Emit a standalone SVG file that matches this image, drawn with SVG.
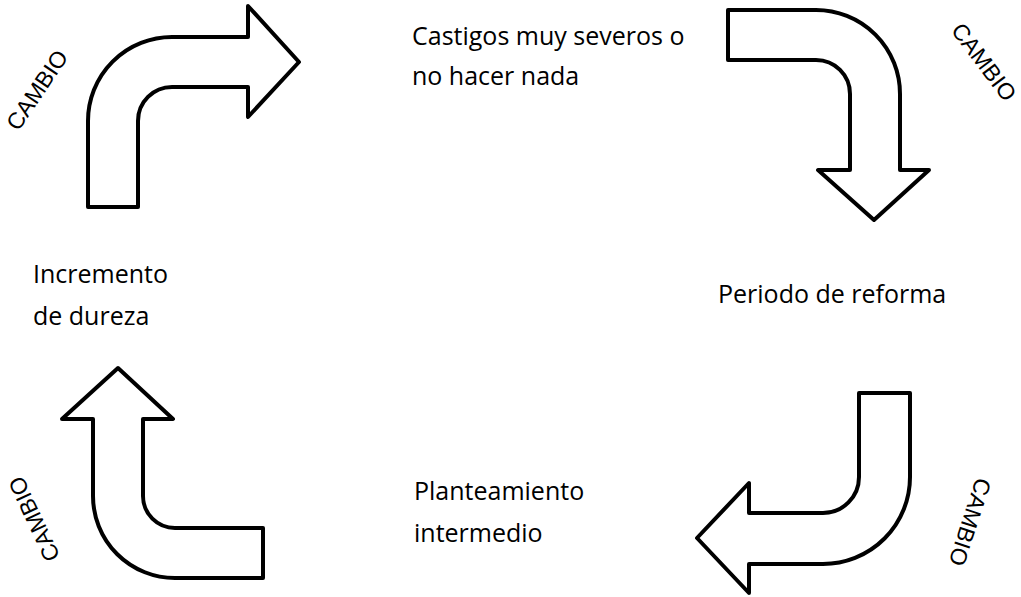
<svg xmlns="http://www.w3.org/2000/svg" width="1021" height="597" viewBox="0 0 1021 597">
<style>
.arrow{fill:#fff;stroke:#000;stroke-width:4;stroke-linejoin:round}
.lbl{font-family:"Open Sans","Liberation Sans",sans-serif;font-size:25px;fill:#000}
.cambio{font-family:"Liberation Sans",Arial,sans-serif;font-size:23px;fill:#000;text-anchor:middle}
</style>
<rect width="1021" height="597" fill="#fff"/>
<g id="connectors">
<path id="arrow-top-left" class="arrow" d="M 88 207 L 88 121 A 84 84 0 0 1 172 37 L 248 37 L 248 6 L 299 62 L 248 117 L 248 87 L 172 87 A 34 34 0 0 0 138 121 L 138 207 Z"/>
<path id="arrow-top-right" class="arrow" d="M 728 10 L 816 10 A 84 84 0 0 1 900 94 L 900 170 L 929 170 L 874 220 L 818 170 L 850 170 L 850 94 A 34 34 0 0 0 816 60 L 728 60 Z"/>
<path id="arrow-bottom-right" class="arrow" d="M 859 393 L 910 393 L 910 477 A 87 87 0 0 1 823 564 L 749 564 L 749 593 L 697 538 L 749 483 L 749 513 L 823 513 A 36 36 0 0 0 859 477 Z"/>
<path id="arrow-bottom-left" class="arrow" d="M 118 368 L 173 419 L 143 419 L 143 496 A 32 32 0 0 0 175 528 L 263 528 L 263 578 L 175 578 A 82 82 0 0 1 93 496 L 93 419 L 62 419 Z"/>
<text class="cambio" transform="translate(37,90) rotate(-56)" y="8">CAMBIO</text>
<text class="cambio" transform="translate(984,62) rotate(53)" y="8">CAMBIO</text>
<text class="cambio" transform="translate(970,522) rotate(108)" y="8">CAMBIO</text>
<text class="cambio" transform="translate(34,519) rotate(-115)" y="8">CAMBIO</text>
</g>
<g id="node-castigos">
<text class="lbl" x="412" y="45">Castigos muy severos o</text>
<text class="lbl" x="412" y="85">no hacer nada</text>
</g>
<g id="node-periodo">
<text class="lbl" x="718" y="303">Periodo de reforma</text>
</g>
<g id="node-planteamiento">
<text class="lbl" x="414" y="500">Planteamiento</text>
<text class="lbl" x="414" y="542">intermedio</text>
</g>
<g id="node-incremento">
<text class="lbl" x="33" y="283">Incremento</text>
<text class="lbl" x="33" y="325">de dureza</text>
</g>
</svg>
